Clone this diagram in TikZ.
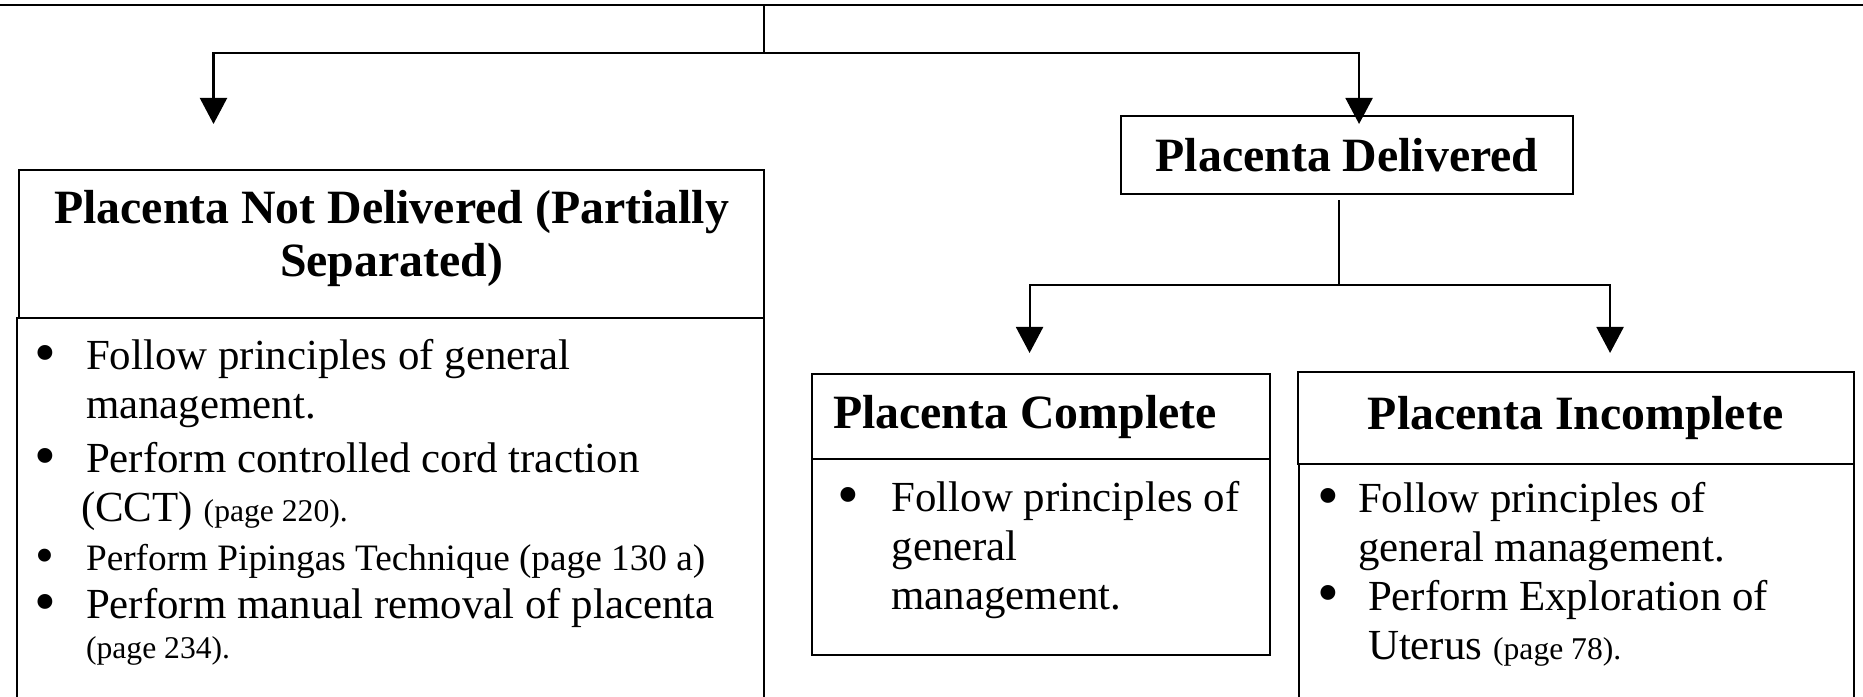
\documentclass[tikz,border=0pt]{standalone}
\usepackage{fontspec}
\setmainfont{Liberation Serif}
\usetikzlibrary{arrows.meta,positioning}

\newcommand{\hd}{\fontsize{13.6}{15.1}\selectfont\bfseries}
\newcommand{\bd}{\fontsize{12.2}{13.86}\selectfont}
\newcommand{\pg}[1]{{\fontsize{9}{13.86}\selectfont #1}}
\newcommand{\bul}[1]{\makebox[#1][l]{\hspace*{-0.06em}\raisebox{-0.08em}{\scalebox{1.45}{\textbullet}}}}

\begin{document}
\begin{tikzpicture}[line width=0.6pt,
  every node/.style={execute at begin node={\spaceskip=0pt\xspaceskip=0pt\relax}},
  bodybox/.style={draw, rectangle, inner sep=0pt, anchor=north west},
  hdbox/.style={bodybox, font=\hd, align=center},
  itemlist/.style={anchor=base west, inner sep=0pt, font=\bd, align=left, text width=#1},
  arr/.style={-{Triangle[length=2.6mm,width=2.7mm]}}]
  \useasboundingbox (0,0) rectangle (18.63,-6.97);
  \clip (0,0) rectangle (18.63,-6.97);

  % 위쪽 상자의 아랫변과 갈라지는 선
  \draw (0,-0.05) -- (18.63,-0.05);
  \coordinate (top) at (7.64,-0.05);
  \coordinate (fork) at (7.64,-0.527);
  \coordinate (ndtip) at (2.135,-1.24);

  % 상자들 — 아래 두 본문 상자는 그림 밑으로 나감
  \node[hdbox, minimum width=7.45cm, minimum height=1.48cm] (nd) at (0.18,-1.69)
    {Placenta Not Delivered (Partially\\ Separated)\rule[-0.22cm]{0pt}{0pt}};
  \node[bodybox, minimum width=7.47cm, minimum height=4.2cm] (ndbody) at (0.16,-3.17) {};
  \node[hdbox, minimum width=4.52cm, minimum height=0.78cm] (pd) at (11.20,-1.15)
    {Placenta Delivered};
  \node[hdbox, minimum width=4.58cm, minimum height=0.85cm, inner xsep=0.21cm,
    text width=4.16cm, align=left] (pc) at (8.11,-3.73) {Placenta Complete};
  \node[bodybox, minimum width=4.58cm, minimum height=1.96cm] (pcbody) at (8.11,-4.58) {};
  \node[hdbox, minimum width=5.56cm, minimum height=0.92cm] (pi) at (12.965,-3.707)
    {Placenta Incomplete};
  \node[bodybox, minimum width=5.545cm, minimum height=3cm] (pibody) at (12.98,-4.627) {};

  % 목록
  \node[itemlist=7.2cm] (ndlist) at (0.365,-3.70) {%
    \bul{0.485cm}Follow principles of general\\
    \hspace*{0.485cm}management.\\[1.5pt]
    \bul{0.485cm}Perform controlled cord traction\\
    \hspace*{0.435cm}(CCT) \pg{(page 220).}\\
    {\fontsize{10.6}{13.86}\selectfont\bul{0.485cm}Perform Pipingas Technique (page 130 a)}\\
    \bul{0.485cm}Perform manual removal of placenta\\[-2.5pt]
    \hspace*{0.485cm}\pg{(page 234).}};
  \node[itemlist=4.2cm] (pclist) at (8.385,-5.12) {%
    \bul{0.52cm}Follow principles of\\
    \hspace*{0.52cm}general\\
    \hspace*{0.52cm}management.};
  \node[itemlist=5.2cm] (pilist) at (13.19,-5.13) {%
    \bul{0.38cm}Follow principles of\\
    \hspace*{0.38cm}general management.\\
    \bul{0.48cm}Perform Exploration of\\
    \hspace*{0.48cm}Uterus \pg{(page 78).}};

  % 화살표
  \draw (top) -- (fork);
  \draw[arr] (fork) -| (ndtip);
  \draw[arr] (fork) -| ([xshift=0.12cm,yshift=-0.09cm]pd.north);
  \draw ([xshift=-0.085cm,yshift=-0.05cm]pd.south) -- ++(0,-0.85) coordinate (fork2);
  \draw[arr] (fork2) -| ([xshift=-0.115cm,yshift=0.2cm]pc.north);
  \draw[arr] (fork2) -| ([xshift=0.345cm,yshift=0.177cm]pi.north);
\end{tikzpicture}
\end{document}
